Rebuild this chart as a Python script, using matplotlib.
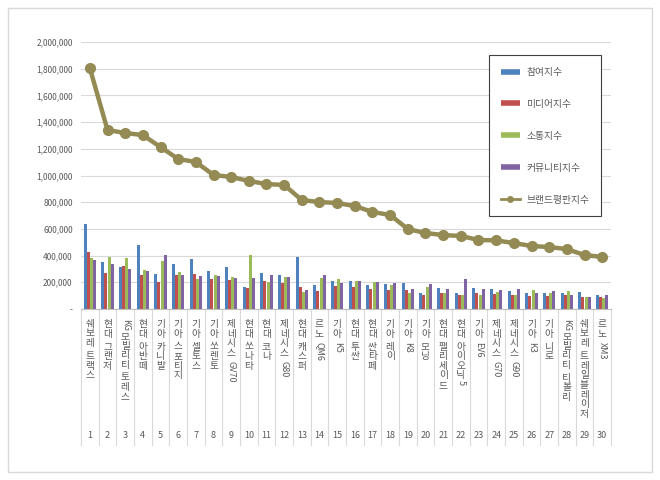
import matplotlib
matplotlib.use("Agg")
import matplotlib.pyplot as plt
import matplotlib.transforms as mtransforms
from matplotlib.lines import Line2D
from matplotlib.patches import Rectangle
from matplotlib.ticker import FuncFormatter

plt.rcParams["font.family"] = ["Noto Sans CJK KR", "DejaVu Sans"]

brands = [
    "쉐보레 트랙스", "현대 그랜저", "KG모빌리티 토레스", "현대 아반떼", "기아 카니발",
    "기아 스포티지", "기아 셀토스", "기아 쏘렌토", "제네시스 GV70", "현대 쏘나타",
    "현대 코나", "제네시스 G80", "현대 캐스퍼", "르노 QM6", "기아 K5",
    "현대 투싼", "현대 싼타페", "기아 레이", "기아 K8", "기아 모닝",
    "현대 팰리세이드", "현대 아이오닉5", "기아 EV6", "제네시스 G70", "제네시스 G90",
    "기아 K3", "기아 니로", "KG모빌리티 티볼리", "쉐보레 트레일블레이저", "르노 XM3",
]
ranks = list(range(1, 31))

participation = [637000, 352000, 317000, 477000, 262000, 337000, 377000, 282000, 312000, 167000,
                 272000, 257000, 387000, 182000, 212000, 207000, 177000, 187000, 197000, 122000,
                 157000, 122000, 157000, 147000, 137000, 122000, 122000, 117000, 127000, 107000]
media = [427000, 272000, 322000, 257000, 202000, 252000, 262000, 222000, 220000, 157000,
         207000, 192000, 167000, 137000, 172000, 162000, 147000, 142000, 142000, 102000,
         122000, 107000, 117000, 112000, 102000, 97000, 97000, 102000, 92000, 87000]
communication = [380000, 387000, 382000, 292000, 357000, 277000, 227000, 257000, 237000, 402000,
                 202000, 242000, 127000, 232000, 222000, 207000, 202000, 182000, 122000, 162000,
                 122000, 107000, 102000, 127000, 102000, 142000, 117000, 132000, 92000, 82000]
community = [367000, 337000, 302000, 287000, 402000, 257000, 247000, 247000, 232000, 232000,
             252000, 240000, 142000, 252000, 192000, 207000, 202000, 197000, 147000, 187000,
             152000, 222000, 152000, 142000, 152000, 117000, 132000, 102000, 92000, 107000]
reputation = [1805000, 1341000, 1318000, 1303000, 1213000, 1124000, 1101000, 1004000, 989000, 959000,
              936000, 929000, 816000, 801000, 794000, 771000, 727000, 704000, 599000, 569000,
              554000, 547000, 517000, 514000, 494000, 472000, 464000, 449000, 404000, 390000]

series_names = ["참여지수", "미디어지수", "소통지수", "커뮤니티지수", "브랜드평판지수"]
bar_colors = ["#4F81BD", "#C0504D", "#9BBB59", "#8064A2"]
line_color = "#948A54"

fig = plt.figure(figsize=(6.6, 4.8), dpi=100)
fig.patches.append(Rectangle((8 / 660, 8 / 480), 644 / 660, 464 / 480, transform=fig.transFigure,
                             fill=False, edgecolor="#D9D9D9", lw=1))
ax = fig.add_axes([81 / 660, 1 - 309 / 480, 530 / 660, 267 / 480])

x = list(range(len(brands)))
w = 0.18
offsets = [-1.5 * w, -0.5 * w, 0.5 * w, 1.5 * w]
for vals, c, off in zip([participation, media, communication, community], bar_colors, offsets):
    ax.bar([i + off for i in x], vals, width=w * 0.92, color=c, zorder=2)
ax.plot(x, reputation, color=line_color, lw=3.2, marker="o", markersize=7, zorder=3)

ax.set_xlim(-0.5, len(brands) - 0.5)
ax.set_ylim(0, 2000000)
ax.set_yticks(range(0, 2000001, 200000))
ax.yaxis.set_major_formatter(FuncFormatter(lambda v, p: "-" if v == 0 else f"{int(v):,}"))
ax.tick_params(axis="y", length=0, labelsize=6, labelcolor="#595959", pad=6)
ax.set_xticks([])
ax.grid(axis="y", color="#D9D9D9", lw=0.8, zorder=0)
for s in ["left", "right", "top"]:
    ax.spines[s].set_visible(False)
ax.spines["bottom"].set_color("#BFBFBF")

# category axis: stacked vertical labels, rank numbers, separators
blend = mtransforms.blended_transform_factory(ax.transData, fig.transFigure)
sep_bottom = 1 - 445 / 480
for b in range(len(brands) + 1):
    ax.add_line(Line2D([b - 0.5, b - 0.5], [1 - 309 / 480, sep_bottom], transform=blend,
                       color="#D9D9D9", lw=0.8, clip_on=False))

step = 9.6 / 480
for i, name in enumerate(brands):
    y = 1 - 319 / 480
    j = 0
    while j < len(name):
        ch = name[j]
        if ch == " ":
            y -= step * 0.35
            j += 1
        elif ch.isascii():
            k = j
            while k < len(name) and name[k].isascii() and name[k] != " ":
                k += 1
            run = name[j:k]
            ax.text(i, y, run, transform=blend, rotation=-90, ha="center", va="top",
                    fontsize=6.5, color="#595959")
            y -= step * 0.62 * len(run)
            j = k
        else:
            ax.text(i, y, ch, transform=blend, ha="center", va="top",
                    fontsize=7, color="#595959")
            y -= step
            j += 1
    ax.text(i, 1 - 436 / 480, str(ranks[i]), transform=blend, ha="center", va="center",
            fontsize=6.5, color="#595959")

handles = [Line2D([], [], color=c, lw=4, solid_capstyle="butt") for c in bar_colors]
handles.append(Line2D([], [], color=line_color, lw=2, marker="o", markersize=4))
leg = ax.legend(handles, series_names, loc="upper left", bbox_to_anchor=(0.77, 0.95),
                fontsize=7, labelspacing=2.25, handlelength=2.0, borderpad=1.2,
                frameon=True, fancybox=False, framealpha=1, edgecolor="#404040",
                handletextpad=0.6, borderaxespad=0)
leg.get_frame().set_linewidth(0.8)
for t in leg.get_texts():
    t.set_color("#595959")

fig.savefig("out.png", dpi=100)
